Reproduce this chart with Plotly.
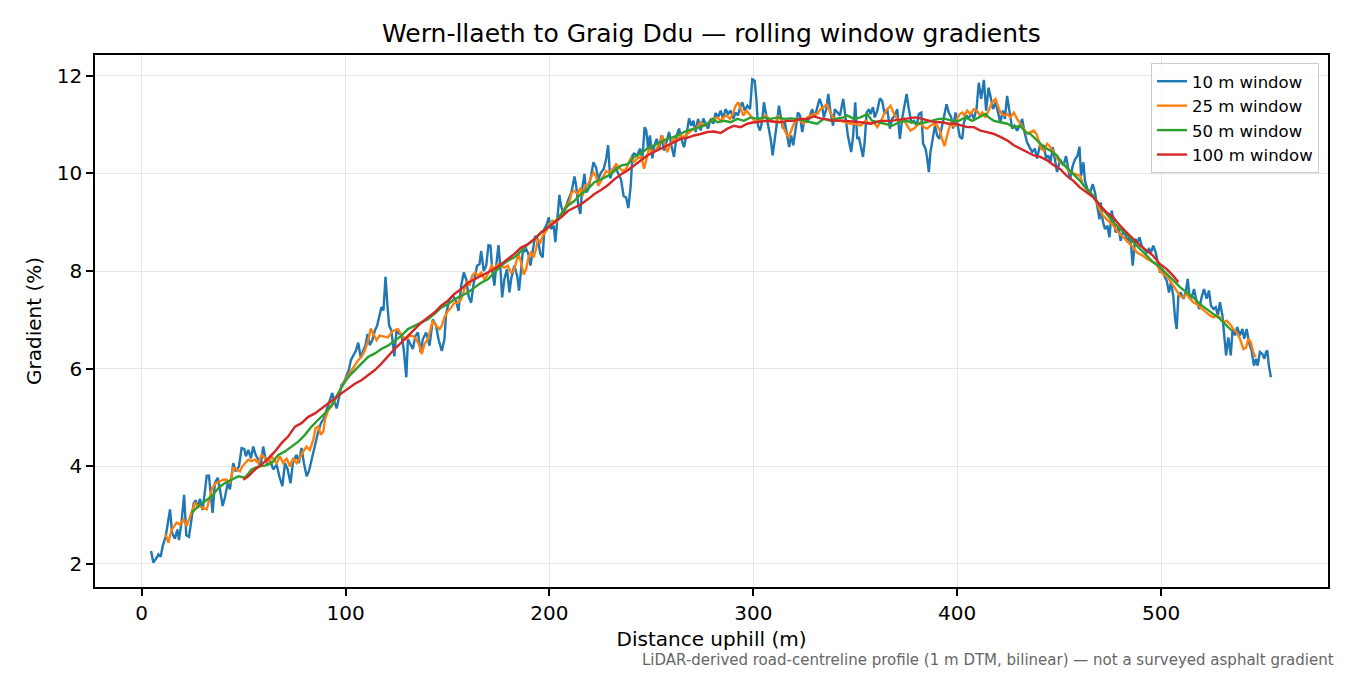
import plotly.graph_objects as go

# distance (m) / gradient (%) pairs, one pair of arrays per window
d10 = [4.6, 5.7, 7.4, 8.2, 9.3, 10.3, 11.8, 12.7, 13.9, 14.9, 16.3, 17.5, 18.3, 19.6, 20.8, 21.9, 23.2, 24.3,
       25.5, 26.5, 27.5, 28.6, 29.9, 31.0, 31.9, 33.0, 34.0, 34.8, 35.9, 37.3, 38.4, 39.7, 40.8, 42.2, 43.3,
       44.9, 46.1, 47.7, 49.0, 50.3, 51.1, 52.3, 53.6, 54.7, 55.9, 57.2, 58.3, 59.6, 60.5, 61.6, 62.9, 64.5,
       66.2, 67.5, 69.0, 70.3, 71.6, 73.0, 74.3, 76.0, 77.1, 78.4, 79.6, 80.9, 82.0, 83.3, 84.5, 85.3, 86.6,
       87.9, 89.4, 90.7, 91.8, 93.5, 94.4, 95.6, 96.7, 98.0, 99.3, 100.5, 101.6, 102.6, 103.9, 105.1, 106.2,
       107.5, 108.7, 109.8, 110.8, 111.9, 113.1, 114.4, 115.5, 116.7, 117.6, 118.6, 119.6, 120.6, 121.4,
       122.5, 123.9, 125.0, 126.1, 127.4, 128.6, 129.8, 130.6, 133.0, 134.3, 135.5, 136.8, 137.9, 139.5,
       141.2, 142.8, 144.4, 145.6, 147.2, 148.5, 149.3, 151.0, 152.6, 154.2, 155.4, 156.7, 158.0, 159.2,
       160.3, 161.6, 162.9, 164.5, 165.7, 166.5, 167.8, 169.0, 170.1, 171.1, 171.9, 173.0, 173.9, 175.0,
       176.0, 176.8, 177.9, 179.2, 180.4, 181.2, 182.8, 184.2, 185.1, 186.1, 186.9, 188.6, 189.7, 190.7,
       191.8, 193.0, 194.3, 195.6, 196.7, 197.5, 198.7, 199.7, 200.8, 202.1, 202.9, 203.8, 204.9, 205.7,
       206.9, 208.2, 209.3, 210.9, 212.3, 213.1, 214.2, 215.2, 216.0, 217.2, 218.0, 219.1, 220.4, 221.6,
       222.9, 224.0, 225.3, 226.6, 227.8, 228.8, 229.8, 231.0, 232.4, 233.5, 235.1, 236.4, 237.6, 238.7,
       239.9, 240.7, 241.5, 243.1, 244.4, 245.6, 246.7, 247.5, 248.4, 249.3, 250.5, 251.3, 252.6, 253.8,
       254.9, 256.2, 257.4, 258.7, 259.8, 261.1, 262.4, 263.6, 264.7, 266.0, 267.3, 268.5, 269.6, 270.6,
       271.7, 272.9, 274.2, 275.5, 276.6, 277.8, 279.1, 280.4, 281.5, 282.7, 284.0, 285.1, 286.4, 287.6,
       288.9, 290.2, 291.3, 292.5, 293.5, 294.6, 295.8, 297.1, 298.4, 299.5, 300.7, 301.5, 302.3, 303.3,
       304.4, 305.2, 306.4, 307.4, 308.5, 309.5, 310.5, 311.4, 312.6, 313.4, 314.5, 315.5, 316.7, 317.6,
       318.6, 319.6, 320.8, 321.9, 322.9, 324.0, 325.2, 326.5, 327.8, 328.9, 330.1, 331.4, 332.5, 333.7,
       334.6, 335.8, 336.8, 337.9, 339.1, 340.0, 341.2, 342.5, 344.1, 345.3, 346.4, 348.0, 349.0, 350.0,
       351.0, 351.8, 352.6, 353.8, 354.6, 355.6, 356.7, 357.5, 358.7, 359.6, 360.8, 362.1, 363.2, 364.4,
       365.7, 367.0, 368.1, 369.4, 370.6, 371.9, 373.0, 374.2, 375.2, 376.3, 377.5, 378.8, 380.1, 381.2,
       382.4, 383.3, 384.5, 385.3, 386.1, 386.9, 388.1, 389.1, 390.2, 391.3, 392.6, 393.8, 394.8, 395.9,
       397.1, 398.0, 399.2, 400.3, 401.3, 402.5, 403.3, 404.6, 405.7, 406.9, 408.2, 409.5, 410.6, 411.8,
       413.1, 414.2, 415.4, 416.3, 417.6, 418.8, 419.9, 421.2, 422.4, 423.4, 424.5, 425.7, 427.0, 428.1,
       429.4, 430.7, 431.9, 433.0, 434.3, 435.5, 436.8, 438.1, 439.2, 440.4, 441.3, 442.5, 443.6, 444.6,
       445.8, 446.9, 447.9, 449.0, 450.5, 452.1, 453.4, 454.6, 455.4, 456.7, 457.8, 459.0, 460.0, 460.8,
       461.9, 462.7, 463.9, 465.2, 466.5, 467.6, 468.8, 469.8, 470.4, 471.4, 472.5, 473.7, 474.7, 475.8,
       476.6, 477.8, 479.1, 480.2, 481.2, 482.4, 483.5, 484.5, 485.3, 486.1, 487.3, 488.4, 489.4, 490.5,
       491.7, 493.0, 494.1, 495.1, 496.2, 497.4, 498.4, 499.5, 500.7, 501.6, 502.8, 503.9, 504.9, 506.0,
       506.9, 507.7, 508.5, 509.6, 511.0, 512.1, 513.1, 513.9, 515.0, 516.2, 517.5, 518.8, 519.9, 521.1,
       522.4, 523.5, 524.5, 525.7, 526.8, 527.9, 528.9, 530.1, 531.0, 531.9, 533.0, 534.2, 535.1, 536.3,
       537.4, 538.7, 539.9, 540.8, 542.0, 543.1, 544.4, 545.6, 546.6, 547.4, 548.5, 549.7, 550.7, 551.5,
       552.1, 552.9, 553.9]
g10 = [2.26, 2.02, 2.12, 2.19, 2.14, 2.36, 2.56, 2.77, 3.11, 2.63, 2.51, 2.70, 2.48, 2.87, 3.41, 2.58, 2.55, 2.87,
       3.24, 3.30, 3.14, 3.33, 3.10, 3.48, 3.80, 3.80, 3.38, 3.04, 3.65, 3.76, 3.52, 3.18, 3.35, 3.65, 3.52,
       4.06, 3.89, 3.99, 4.37, 4.35, 4.20, 4.33, 4.16, 4.40, 4.23, 4.13, 3.99, 4.40, 4.20, 4.03, 4.13, 3.93,
       4.03, 3.79, 3.59, 4.06, 3.93, 3.65, 4.10, 4.23, 4.06, 4.37, 4.06, 3.79, 3.89, 4.13, 4.33, 4.51, 4.71,
       4.88, 4.98, 5.15, 5.29, 5.50, 5.35, 5.18, 5.39, 5.66, 5.73, 5.87, 5.97, 6.17, 6.27, 6.37, 6.53,
       6.22, 6.37, 6.48, 6.71, 6.48, 6.58, 6.78, 6.88, 7.09, 7.26, 7.19, 7.88, 7.26, 6.88,
       6.78, 6.25, 6.78, 6.72, 6.70, 6.37, 5.82, 6.60, 6.40, 6.67, 6.74, 6.33, 6.60, 6.74,
       6.47, 7.01, 6.88, 6.60, 6.36, 6.60, 7.12, 7.42, 7.49, 7.39, 7.18, 7.70, 7.97, 7.83,
       7.49, 7.35, 7.76, 8.11, 8.14, 8.41, 8.00, 8.11, 8.53, 8.52, 8.04, 7.70, 8.11, 8.53,
       8.04, 7.46, 7.83, 8.04, 7.56, 7.83, 8.11, 7.90, 7.60, 7.97, 8.38, 8.45, 8.35, 8.11,
       8.45, 8.72, 8.65, 8.35, 8.28, 8.86, 8.96, 9.10, 8.86, 8.93, 8.59, 9.00, 9.56, 9.34,
       9.17, 9.34, 9.47, 9.64, 9.94, 9.75, 9.34, 9.17, 9.68, 9.99, 9.61, 9.68, 9.95, 10.23,
       10.12, 9.88, 10.02, 10.09, 10.29, 10.58, 9.90, 10.05, 10.16, 10.02, 9.88, 9.54, 9.51, 9.29,
       9.76, 10.37, 10.41, 10.37, 10.51, 10.31, 10.95, 10.88, 10.51, 10.78, 10.31, 10.54, 10.71, 10.51,
       10.78, 10.47, 10.64, 10.85, 10.58, 10.34, 10.78, 10.92, 10.71, 10.54, 10.81, 11.13, 10.98, 11.08,
       10.85, 11.12, 10.88, 11.13, 11.02, 10.92, 11.12, 11.02, 11.24, 11.15, 11.29, 11.12, 11.32, 11.22,
       11.29, 11.12, 11.25, 11.19, 11.36, 11.46, 11.29, 11.39, 11.32, 11.93, 11.90, 11.53, 10.98, 10.88,
       11.08, 11.46, 11.19, 10.98, 10.71, 10.37, 10.64, 10.98, 11.39, 11.15, 10.92, 11.05, 10.78, 10.54,
       10.78, 10.58, 10.92, 11.25, 11.19, 10.85, 11.12, 11.05, 11.19, 11.32, 11.15, 11.39, 11.53, 11.39,
       11.15, 11.32, 11.63, 11.25, 10.98, 11.32, 11.25, 11.19, 11.53, 11.12, 10.78, 10.44, 10.78, 11.46,
       10.71, 10.75, 10.58, 10.34, 10.64, 11.25, 11.32, 11.22, 11.36, 11.15, 11.29, 11.54, 11.49, 11.22,
       11.32, 10.92, 11.12, 11.19, 11.32, 10.71, 11.12, 11.39, 11.63, 11.32, 11.05, 11.08, 10.98, 11.22,
       11.25, 10.61, 10.51, 10.31, 10.03, 10.44, 10.71, 10.98, 10.78, 10.71, 10.98, 11.19, 11.42, 11.25,
       11.15, 10.92, 11.25, 10.98, 10.75, 10.71, 11.05, 11.19, 11.12, 11.25, 11.12, 11.32, 11.86, 11.53,
       11.92, 11.29, 11.76, 11.59, 11.32, 11.46, 11.25, 11.05, 11.29, 11.12, 11.59, 11.25, 10.92, 10.98,
       10.88, 10.98, 11.12, 10.85, 10.64, 10.54, 10.44, 10.51, 10.31, 10.54, 10.51, 10.58, 10.31, 10.37,
       10.24, 10.54, 10.31, 10.03, 10.29, 10.16, 10.36, 10.09, 9.88, 10.16, 10.29, 10.36, 10.55, 9.95,
       10.23, 9.85, 9.68, 9.61, 9.78, 9.61, 9.27, 9.06, 9.41, 9.03, 8.86, 8.93, 8.69, 9.24,
       9.06, 8.79, 8.89, 8.62, 8.79, 8.76, 8.59, 8.72, 8.52, 8.11, 8.66, 8.59, 8.69, 8.52,
       8.45, 8.38, 8.45, 8.38, 8.52, 8.38, 8.18, 7.97, 8.04, 7.90, 7.80, 7.56, 7.77, 7.49,
       7.02, 6.81, 7.49, 7.56, 7.43, 7.56, 7.84, 7.49, 7.46, 7.63, 7.36, 7.22, 7.46, 7.63,
       7.43, 7.60, 7.29, 7.22, 7.26, 7.09, 7.36, 7.09, 6.68, 6.27, 6.64, 6.27, 6.81, 6.68,
       6.85, 6.68, 6.81, 6.61, 6.81, 6.54, 6.37, 6.06, 6.20, 6.06, 6.34, 6.30, 6.20, 6.34,
       6.37, 6.06, 5.82]

d25 = [11.8, 13.1, 14.7, 17.2, 18.8, 20.4, 22.0, 24.2, 26.1, 27.8, 30.2, 31.9, 32.7, 34.6, 36.3, 38.4, 40.0,
       41.7, 43.3, 44.9, 46.6, 48.2, 49.3, 50.7, 52.3, 53.9, 55.6, 57.2, 58.8, 60.5, 62.1, 63.7, 66.2, 67.8,
       69.4, 71.1, 72.7, 74.3, 76.0, 77.6, 79.2, 80.9, 82.5, 84.2, 85.3, 86.6, 87.9, 89.1, 89.9, 91.5, 93.1,
       94.8, 96.4, 98.0, 99.7, 101.3, 102.9, 104.6, 106.2, 107.8, 109.5, 111.1, 112.4, 113.6, 115.2, 116.8,
       117.5, 120.8, 123.2, 125.7, 127.6, 129.7, 131.4, 133.0, 134.6, 136.3, 137.4, 138.7, 140.4, 141.7,
       142.8, 144.4, 146.1, 147.2, 148.5, 150.2, 151.8, 153.4, 155.1, 156.7, 158.3, 159.6, 160.8, 162.1,
       163.6, 164.9, 166.5, 168.1, 169.4, 170.6, 171.7, 173.0, 174.7, 176.3, 177.9, 179.6, 181.2, 182.5,
       183.7, 184.8, 186.1, 187.4, 188.6, 189.9, 191.0, 192.2, 193.5, 194.3, 195.6, 196.7, 198.4, 200.0,
       201.6, 203.3, 204.9, 206.5, 208.2, 209.8, 210.9, 212.3, 213.9, 215.2, 216.3, 217.5, 219.1, 220.4,
       221.6, 222.9, 224.0, 225.3, 226.6, 227.8, 229.4, 231.0, 232.7, 234.3, 235.9, 237.6, 239.2, 239.9,
       241.5, 243.1, 245.1, 246.4, 247.7, 248.9, 250.5, 252.1, 253.8, 255.4, 256.7, 257.8, 259.5, 261.1,
       262.7, 264.4, 266.0, 267.6, 269.3, 270.9, 272.5, 274.2, 275.8, 277.5, 279.1, 280.7, 282.4, 284.0,
       285.3, 286.9, 288.6, 290.2, 291.3, 292.6, 293.8, 295.1, 296.7, 298.0, 299.5, 301.1, 302.8, 304.4,
       306.0, 307.7, 309.3, 311.0, 312.3, 313.4, 315.0, 316.3, 317.5, 318.8, 319.9, 321.6, 323.2, 324.8,
       326.5, 328.1, 329.7, 331.4, 333.0, 334.6, 335.9, 337.1, 338.2, 339.5, 341.2, 342.8, 345.3, 347.7,
       350.2, 352.6, 355.1, 357.5, 359.2, 360.8, 362.4, 364.1, 365.7, 367.3, 369.0, 370.6, 372.2, 373.9,
       375.5, 377.1, 378.8, 380.4, 382.0, 383.7, 385.3, 386.9, 388.6, 390.2, 391.5, 392.6, 393.8, 395.1,
       396.4, 397.5, 398.7, 400.0, 401.3, 402.5, 403.6, 404.9, 406.5, 408.2, 409.8, 411.1, 412.3, 413.9,
       415.5, 417.2, 418.8, 419.9, 421.2, 422.9, 424.5, 426.1, 427.8, 429.4, 431.0, 432.7, 434.3, 435.9,
       437.6, 438.9, 440.0, 441.2, 442.5, 444.1, 445.8, 447.4, 449.0, 450.5, 452.9, 455.4, 457.8, 460.3,
       461.9, 463.6, 465.2, 466.8, 468.5, 470.1, 471.7, 473.4, 475.0, 476.6, 478.3, 479.9, 481.5, 483.2,
       484.8, 486.4, 488.1, 489.7, 491.3, 493.0, 494.6, 496.2, 497.9, 499.5, 501.1, 502.8, 504.4, 506.0,
       507.7, 509.3, 510.9, 512.6, 514.2, 515.8, 517.5, 519.1, 520.8, 522.4, 524.0, 525.7, 527.3, 528.9,
       530.6, 532.2, 533.8, 535.5, 537.1, 538.7, 540.4, 541.7, 542.8, 544.0, 545.3, 546.4]
g25 = [2.60, 2.43, 2.70, 2.84, 2.80, 2.90, 2.77, 3.04, 3.24, 3.18, 3.14, 3.11, 3.24, 3.55, 3.65, 3.69, 3.72,
       3.72, 3.65, 3.96, 3.93, 3.89, 3.99, 4.06, 4.13, 4.10, 4.13, 4.06, 4.23, 4.16, 4.06, 4.20, 4.06, 4.20,
       4.06, 4.16, 3.99, 4.16, 4.06, 4.16, 4.30, 4.40, 4.33, 4.54, 4.78, 4.81, 4.64, 4.71, 4.95, 5.15, 5.22,
       5.35, 5.49, 5.63, 5.76, 5.86, 5.97, 6.07, 6.17, 6.24, 6.37, 6.58, 6.82, 6.71, 6.58, 6.68,
       6.67, 6.64, 6.77, 6.81, 6.67, 6.60, 6.67, 6.67, 6.60, 6.47, 6.30, 6.50, 6.60, 6.81,
       6.98, 6.88, 6.81, 6.88, 7.05, 7.18, 7.25, 7.35, 7.35, 7.42, 7.63, 7.80, 7.70, 7.90,
       7.97, 7.90, 7.97, 7.83, 7.90, 8.00, 8.11, 8.04, 8.14, 8.11, 8.07, 8.11, 7.97, 8.00,
       8.17, 8.35, 8.17, 7.93, 8.04, 8.31, 8.38, 8.28, 8.45, 8.65, 8.59, 8.72, 8.82, 8.96,
       9.03, 9.00, 9.10, 9.23, 9.34, 9.41, 9.61, 9.64, 9.58, 9.71, 9.54, 9.75, 9.78, 9.92,
       10.02, 9.95, 9.75, 9.85, 9.95, 10.05, 10.02, 10.09, 10.19, 10.12, 10.05, 10.09, 10.23, 10.31,
       10.24, 10.31, 10.34, 10.10, 10.31, 10.51, 10.44, 10.47, 10.61, 10.78, 10.58, 10.44, 10.61, 10.71,
       10.68, 10.78, 10.75, 10.81, 10.88, 10.92, 10.95, 11.05, 10.98, 11.02, 11.08, 11.12, 11.15, 11.08,
       11.15, 11.19, 11.12, 11.25, 11.39, 11.46, 11.32, 11.19, 11.29, 11.22, 11.12, 11.05, 11.08, 11.12,
       11.19, 11.12, 11.08, 11.05, 11.19, 11.12, 10.92, 10.81, 10.75, 10.92, 11.02, 11.12, 11.08, 11.02,
       11.15, 11.19, 11.22, 11.22, 11.32, 11.36, 11.42, 11.32, 11.22, 11.12, 11.08, 11.08, 11.05, 11.02,
       11.02, 10.98, 11.08, 11.02, 11.05, 10.95, 11.05, 11.22, 11.32, 11.39, 11.22, 11.12, 11.05, 11.12,
       10.98, 10.88, 10.92, 10.98, 11.05, 10.95, 10.92, 10.98, 11.02, 10.98, 10.88, 10.71, 10.56, 10.78,
       10.98, 11.02, 10.95, 11.12, 11.22, 11.25, 11.19, 11.29, 11.22, 11.32, 11.29, 11.19, 11.25, 11.15,
       11.32, 11.46, 11.53, 11.39, 11.25, 11.19, 11.22, 11.15, 11.25, 11.12, 11.02, 10.92, 10.81, 10.85,
       10.88, 10.81, 10.64, 10.51, 10.47, 10.61, 10.54, 10.44, 10.31, 10.23, 10.16, 10.02, 9.99, 9.95,
       9.75, 9.68, 9.61, 9.54, 9.41, 9.24, 9.13, 9.06, 9.00, 8.93, 8.83, 8.76, 8.69, 8.62,
       8.55, 8.48, 8.38, 8.35, 8.31, 8.25, 8.21, 8.18, 8.14, 8.00, 7.94, 7.90, 7.80, 7.70,
       7.60, 7.49, 7.46, 7.53, 7.43, 7.36, 7.32, 7.26, 7.19, 7.15, 7.09, 7.05, 7.09, 7.05,
       6.95, 6.98, 6.91, 6.81, 6.74, 6.61, 6.40, 6.43, 6.61, 6.54, 6.33, 6.23]

d50 = [24.5, 27.8, 31.0, 34.3, 37.6, 40.8, 44.1, 47.4, 50.7, 53.9, 57.2, 60.5, 63.7, 67.0, 70.3, 73.5, 76.8,
       80.1, 83.3, 86.6, 89.9, 93.1, 96.4, 98.0, 99.7, 102.1, 104.6, 107.8, 111.1, 114.4, 117.5, 120.8, 124.0,
       127.3, 130.6, 133.8, 137.1, 140.4, 143.6, 146.9, 150.2, 153.4, 156.7, 160.0, 163.2, 166.5, 169.8,
       173.0, 176.3, 179.6, 182.8, 186.1, 189.4, 192.6, 195.9, 199.2, 202.5, 205.7, 209.0, 212.3, 215.5,
       218.8, 222.1, 225.3, 228.6, 231.9, 235.1, 238.4, 241.5, 244.8, 248.0, 251.3, 254.6, 257.8, 261.1,
       264.4, 267.6, 270.9, 274.2, 277.5, 279.9, 282.4, 285.6, 288.9, 292.2, 295.4, 298.7, 302.0, 305.2,
       308.5, 311.8, 315.0, 318.3, 321.6, 324.8, 328.1, 331.4, 334.6, 337.9, 341.2, 344.4, 346.1, 349.3,
       352.6, 355.9, 358.3, 361.6, 364.9, 368.1, 371.4, 374.7, 377.9, 381.2, 384.5, 387.7, 391.0, 394.3,
       397.5, 400.8, 404.1, 407.4, 410.6, 413.9, 415.5, 418.0, 421.2, 424.5, 427.8, 431.0, 433.5, 435.9,
       439.2, 442.5, 445.8, 449.0, 450.5, 453.8, 457.0, 460.3, 463.6, 466.8, 470.1, 473.4, 476.6, 479.9,
       483.2, 486.4, 489.7, 493.0, 496.2, 499.5, 502.8, 506.0, 509.3, 512.6, 515.8, 519.1, 522.4, 525.7,
       528.9, 532.2, 534.6]
g50 = [3.04, 3.18, 3.28, 3.38, 3.55, 3.65, 3.72, 3.79, 3.76, 3.93, 3.99, 4.01, 4.06, 4.23, 4.30, 4.40, 4.50,
       4.64, 4.81, 4.95, 5.08, 5.25, 5.49, 5.63, 5.73, 5.86, 5.97, 6.10, 6.24, 6.31, 6.40, 6.47, 6.57,
       6.67, 6.81, 6.88, 6.94, 7.01, 7.12, 7.25, 7.32, 7.42, 7.49, 7.56, 7.66, 7.76, 7.83,
       7.97, 8.11, 8.21, 8.28, 8.41, 8.55, 8.65, 8.79, 8.89, 9.00, 9.17, 9.34, 9.44, 9.58,
       9.68, 9.82, 9.88, 9.95, 10.05, 10.16, 10.19, 10.34, 10.41, 10.51, 10.58, 10.64, 10.71, 10.75,
       10.81, 10.88, 10.92, 10.95, 11.02, 11.12, 11.05, 11.08, 11.05, 11.12, 11.08, 11.15, 11.12, 11.15,
       11.12, 11.15, 11.12, 11.13, 11.12, 11.08, 11.05, 11.02, 11.12, 11.08, 11.13, 11.15, 11.19, 11.12,
       11.15, 11.22, 11.08, 11.05, 11.02, 10.98, 11.05, 11.08, 11.05, 11.02, 11.05, 11.08, 11.12, 11.12,
       11.08, 11.08, 11.15, 11.08, 11.15, 11.22, 11.15, 11.08, 11.05, 11.02, 10.95, 10.98, 10.85, 10.81,
       10.68, 10.54, 10.47, 10.37, 10.26, 10.12, 9.99, 9.85, 9.68, 9.54, 9.34, 9.17, 9.00, 8.86,
       8.76, 8.59, 8.45, 8.31, 8.18, 8.08, 7.94, 7.80, 7.67, 7.56, 7.46, 7.32, 7.22, 7.12,
       7.02, 6.88, 6.78]

d100 = [49.8, 52.3, 55.6, 58.8, 62.1, 65.4, 68.6, 71.9, 75.2, 78.4, 81.7, 85.0, 88.2, 91.5, 94.8, 98.0, 101.3,
        104.6, 107.8, 111.1, 114.4, 117.6, 120.8, 124.0, 127.3, 130.6, 133.8, 137.1, 140.4, 143.6, 146.9,
        150.2, 153.4, 156.7, 160.0, 163.2, 166.5, 169.8, 173.0, 176.3, 179.6, 182.8, 186.1, 189.4, 192.6,
        195.9, 199.2, 202.5, 205.7, 209.0, 212.3, 215.5, 218.8, 222.1, 225.3, 228.6, 231.8, 235.0, 238.3,
        241.5, 244.8, 248.0, 251.3, 254.6, 257.8, 261.1, 264.4, 267.6, 270.9, 274.2, 277.5, 280.7, 284.0,
        287.3, 290.5, 293.8, 297.1, 300.3, 303.6, 306.9, 310.1, 313.4, 316.7, 319.9, 323.2, 326.5, 329.7,
        333.0, 336.3, 339.5, 342.8, 346.1, 349.3, 352.6, 357.5, 362.4, 367.3, 370.6, 373.9, 377.1, 379.6,
        382.8, 386.1, 389.4, 392.6, 395.9, 399.2, 402.5, 404.9, 408.2, 411.4, 414.7, 418.0, 421.2, 424.5,
        427.8, 431.0, 434.3, 437.6, 440.8, 444.1, 447.4, 450.5, 453.8, 457.0, 460.3, 463.6, 466.8, 470.1,
        473.4, 476.6, 479.9, 483.2, 486.4, 489.7, 493.0, 496.2, 499.5, 502.8, 506.0, 508.5]
g100 = [3.72, 3.79, 3.93, 4.03, 4.16, 4.30, 4.47, 4.61, 4.81, 4.88, 5.01, 5.08, 5.18, 5.29, 5.39, 5.49, 5.59,
        5.69, 5.76, 5.86, 5.97, 6.10, 6.26, 6.40, 6.53, 6.67, 6.81, 6.94, 7.05, 7.15, 7.29,
        7.39, 7.53, 7.63, 7.76, 7.83, 7.90, 7.97, 8.04, 8.14, 8.24, 8.35, 8.48, 8.55, 8.65,
        8.79, 8.89, 9.00, 9.10, 9.23, 9.30, 9.37, 9.47, 9.58, 9.66, 9.76, 9.88, 9.98, 10.06,
        10.16, 10.28, 10.37, 10.44, 10.51, 10.58, 10.64, 10.71, 10.73, 10.78, 10.81, 10.85, 10.86, 10.83,
        10.92, 10.98, 10.95, 11.02, 11.05, 11.06, 11.08, 11.06, 11.05, 11.08, 11.08, 11.12, 11.12, 11.17,
        11.13, 11.11, 11.08, 11.09, 11.08, 11.07, 11.05, 11.02, 11.08, 11.08, 11.10, 11.13, 11.15, 11.15,
        11.12, 11.08, 11.05, 11.05, 11.02, 11.02, 10.98, 10.95, 10.95, 10.88, 10.85, 10.81, 10.75, 10.68,
        10.58, 10.51, 10.44, 10.37, 10.34, 10.27, 10.17, 10.09, 9.95, 9.85, 9.71, 9.61, 9.51, 9.34,
        9.20, 9.10, 8.93, 8.79, 8.66, 8.52, 8.42, 8.31, 8.14, 8.04, 7.90, 7.77]

names = ["10 m window", "25 m window", "50 m window", "100 m window"]
colours = ["#1f77b4", "#ff7f0e", "#2ca02c", "#d62728"]
xs = [d10, d25, d50, d100]
ys = [g10, g25, g50, g100]

font = "DejaVu Sans"

fig = go.Figure()
for x, y, n, c in zip(xs, ys, names, colours):
    fig.add_trace(go.Scatter(x=x, y=y, mode="lines", name=n, line=dict(color=c, width=2.4)))

axis_style = dict(
    showgrid=True, gridcolor="#e6e6e6", gridwidth=1.4,
    showline=True, linecolor="black", linewidth=1.6, mirror=True,
    ticks="outside", ticklen=7, tickwidth=1.6, tickcolor="black",
    tickfont=dict(family=font, size=20, color="black"),
    zeroline=False,
)

# the page body adds an 8 px margin, so the figure is laid out 8 px up and left
fig.update_layout(
    width=1350, height=675,
    plot_bgcolor="white", paper_bgcolor="white",
    margin=dict(l=87, r=30, t=47, b=96),
    font=dict(family=font, color="black"),
    title=dict(text="Wern-llaeth to Graig Ddu — rolling window gradients",
               x=0.5, xref="paper", xanchor="center",
               y=1 - 25 / 675, yref="container", yanchor="middle",
               font=dict(family=font, size=25, color="black")),
    xaxis=dict(axis_style, range=[-22.9, 581.9], tickvals=[0, 100, 200, 300, 400, 500],
               title=dict(text="Distance uphill (m)", font=dict(family=font, size=20), standoff=8)),
    yaxis=dict(axis_style, range=[1.52, 12.43], tickvals=[2, 4, 6, 8, 10, 12],
               title=dict(text="Gradient (%)", font=dict(family=font, size=20), standoff=10)),
    legend=dict(x=0.9927, y=0.985, xanchor="right", yanchor="top",
                bgcolor="rgba(255,255,255,0.8)", bordercolor="#cccccc", borderwidth=1,
                font=dict(family=font, size=16.5, color="black")),
    showlegend=True,
)

fig.add_annotation(
    text="LiDAR-derived road-centreline profile (1 m DTM, bilinear) — not a surveyed asphalt gradient",
    xref="paper", yref="paper", x=1.0065, y=-0.137, xanchor="right", yanchor="middle",
    showarrow=False, font=dict(family=font, size=15, color="#666666"),
)

fig.write_html("out.html")
